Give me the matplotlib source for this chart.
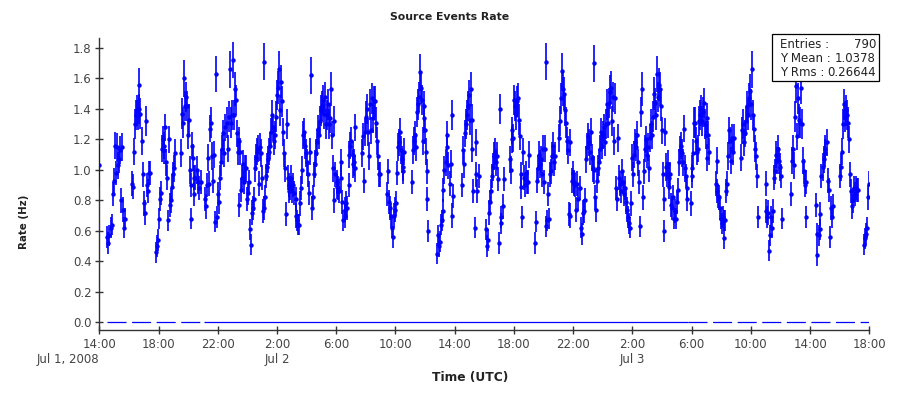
import matplotlib
matplotlib.use("Agg")
import matplotlib.pyplot as plt
from matplotlib.patches import Rectangle
from matplotlib.transforms import blended_transform_factory
import numpy as np

plt.rcParams['font.family'] = ['DejaVu Sans']
plt.rcParams['lines.scale_dashes'] = False

# ---------------- data (hours since 2008-07-01 14:00 UTC) ----------------
hours_a = [0.0,0.54,0.61,0.68,0.77,0.88,0.93,0.99,1.06,1.13,
           1.2,1.24,1.33,1.4,1.47,1.53,1.6,1.65,1.71,2.23,
           2.3,2.35,2.41,2.48,2.55,2.62,2.66,2.71,2.77,2.86,
           2.93,3.0,3.07,3.13,3.2,3.27,3.34,3.4,3.83,3.9,
           3.97,4.01,4.08,4.15,4.21,4.28,4.35,4.39,4.44,4.51,
           4.57,4.64,4.71,4.78,4.84,4.91,4.98,5.05,5.11,5.52,
           5.57,5.63,5.7,5.77,5.84,5.93,5.99,6.06,6.13,6.2,
           6.26,6.33,6.22,6.4]
rate_a = [1.03,0.56,0.52,0.57,0.62,0.64,0.84,0.93,1.16,0.98,
          1.15,1.03,1.07,1.13,0.80,1.15,0.74,0.62,0.68,0.91,
          0.89,1.12,1.30,1.36,1.39,1.36,1.40,1.56,1.37,1.19,
          0.97,0.78,0.72,1.32,0.90,0.86,0.98,0.98,0.46,0.50,
          0.54,0.68,0.81,0.85,1.14,1.20,1.13,1.16,1.28,1.05,
          0.95,0.67,1.20,0.77,0.80,0.89,0.97,1.01,1.11,1.11,
          1.37,1.31,1.60,1.42,1.48,1.42,1.23,1.33,1.00,0.90,
          1.16,1.08,0.68,0.95]
err_a = [.14,.07,.07,.07,.07,.07,.08,.08,.09,.08,
         .09,.09,.09,.09,.08,.09,.08,.07,.07,.08,
         .08,.09,.10,.10,.10,.10,.10,.11,.10,.09,
         .08,.08,.08,.10,.08,.08,.08,.08,.07,.07,
         .07,.07,.08,.08,.09,.09,.09,.09,.09,.09,
         .08,.07,.09,.08,.08,.08,.08,.09,.09,.09,
         .10,.10,.12,.10,.10,.10,.09,.10,.09,.08,
         .09,.09,.07,.08]

hours_b = [6.4,6.49,6.58,6.67,6.76,6.87,7.14,7.21,7.3,7.37,
           7.44,7.48,7.55,7.62,7.7,7.75,7.84,7.91,7.98,8.04,
           8.11,8.18,8.25,8.31,8.38,8.45,8.51,8.6,8.67,8.74,
           8.81,8.88,8.94,9.01,9.08,9.15,9.21,9.28,9.35,9.42,
           9.46,9.51,9.57,9.64,9.71,9.78,9.84,9.91,9.98,10.05,
           10.11,10.18,10.23,10.3,10.36,10.43,10.52,10.59,10.66,10.72,
           10.79,10.86,10.93,11.0,11.06,11.13,11.2,11.26,11.33,11.4,
           11.47,11.53,11.11,11.6,11.67,11.74,11.8,11.87,11.94,12.0,
           12.07,12.14,12.21,12.28,12.34,12.41,12.48,12.55,12.61,12.66,
           12.73,12.79,12.84]
rate_b = [0.84,0.95,1.00,0.92,0.88,0.92,0.81,0.76,0.90,1.08,
          0.91,1.27,1.31,1.09,0.93,1.10,0.66,1.63,0.69,0.84,
          0.79,0.95,1.05,1.14,1.24,1.11,1.28,1.31,1.14,1.35,
          1.66,1.31,1.36,1.72,1.36,1.53,1.46,1.24,1.12,1.19,
          0.77,1.12,0.87,0.95,1.04,0.92,1.01,1.01,0.81,0.85,
          0.92,0.61,0.51,0.72,0.75,0.81,1.01,1.08,1.12,1.14,
          0.91,1.15,1.11,0.95,0.73,0.75,0.82,0.96,1.02,1.07,
          1.12,1.16,1.71,1.25,1.36,1.28,1.19,1.23,1.35,1.49,
          1.54,1.66,1.39,1.58,1.45,1.25,1.11,1.01,0.71,1.30,
          0.95,0.90,0.86]
err_b = [.08,.08,.09,.08,.08,.08,.08,.08,.08,.09,
         .08,.09,.10,.09,.08,.09,.07,.12,.07,.08,
         .08,.08,.09,.09,.09,.09,.09,.10,.09,.10,
         .12,.10,.10,.12,.10,.11,.10,.09,.09,.09,
         .08,.09,.08,.08,.09,.08,.09,.09,.08,.08,
         .08,.07,.07,.08,.08,.08,.09,.09,.09,.09,
         .08,.09,.09,.08,.08,.08,.08,.08,.09,.09,
         .09,.09,.12,.09,.10,.09,.09,.09,.10,.10,
         .11,.12,.10,.11,.10,.09,.09,.09,.08,.10,
         .08,.08,.08]

hours_c = [12.89,12.95,13.04,13.11,13.18,13.25,13.31,13.38,13.45,13.51,
           13.58,13.65,13.72,13.78,13.85,13.92,13.99,14.05,14.12,14.17,
           14.24,14.3,14.35,14.41,14.48,14.55,14.62,14.68,14.75,14.82,
           14.89,14.95,15.02,15.09,15.16,15.23,15.29,15.36,15.43,15.5,
           15.56,15.63,15.7,15.77,15.83,15.88,15.95,16.02,16.08,16.15,
           16.22,16.29,16.35,16.42,16.49,16.56,16.62,16.69,16.76,16.83,
           16.89,16.96,17.03,17.1,17.16,17.23,17.3,17.28,17.77,17.84,
           17.88,17.95,18.02,18.09,18.16,18.22,18.29,18.36,18.43,18.49,
           18.56,18.63,18.7,18.76,18.83,18.9,18.97]
rate_c = [0.88,0.95,0.86,0.90,0.85,0.81,0.70,0.67,0.64,0.64,
          0.78,0.88,1.00,1.23,1.25,1.16,1.11,1.05,0.97,0.85,
          1.12,1.62,0.75,0.82,0.97,1.04,1.11,1.18,1.27,1.23,
          1.32,1.39,1.42,1.46,1.37,1.48,1.30,1.36,1.43,1.30,
          1.34,1.53,1.23,1.01,0.80,1.32,0.97,0.92,0.89,0.88,
          0.86,0.95,1.05,0.79,0.67,0.70,0.74,0.78,0.75,0.90,
          1.10,1.16,1.19,1.10,1.04,1.05,1.28,1.01,1.11,1.22,
          0.93,1.25,1.35,1.40,1.25,1.09,1.43,1.26,1.47,1.34,
          1.45,1.45,1.31,1.19,1.09,0.97,0.97]
err_c = [.08,.08,.08,.08,.08,.08,.08,.07,.07,.07,
         .08,.08,.09,.09,.09,.09,.09,.09,.08,.08,
         .09,.12,.08,.08,.08,.09,.09,.09,.09,.09,
         .10,.10,.10,.10,.10,.10,.10,.10,.10,.10,
         .10,.11,.09,.09,.08,.10,.08,.08,.08,.08,
         .08,.08,.09,.08,.07,.08,.08,.08,.08,.08,
         .09,.09,.09,.09,.09,.09,.09,.09,.09,.09,
         .08,.09,.10,.10,.09,.09,.10,.09,.10,.10,
         .10,.10,.10,.09,.09,.08,.08]

hours_d = [19.46,19.5,19.58,19.64,19.71,19.78,19.82,19.89,19.96,20.02,
           20.09,20.16,20.23,20.3,20.36,20.43,20.5,20.54,20.59,21.13,
           21.2,21.26,21.33,21.4,21.47,21.53,21.6,21.67,21.74,21.8,
           21.87,21.92,21.96,22.01,22.05,22.1,22.16,22.21,22.8,22.86,
           22.93,23.0,23.06,23.13,23.2,23.24,23.31,23.38,23.45,23.51,
           23.58,23.65,23.72,23.79,23.83,23.88,24.48,24.55,24.62,24.69,
           24.75,24.82,24.89,24.96,25.02,25.09,25.16,25.2,25.27,25.34,
           25.41,25.47,25.54,25.61]
rate_d = [0.84,0.99,0.79,0.75,0.70,0.62,0.56,0.70,0.74,0.78,
          0.98,1.15,1.18,1.25,1.13,1.07,1.02,0.99,1.12,0.92,
          1.13,1.19,1.23,1.15,1.38,1.43,1.48,1.64,1.54,1.46,
          1.19,1.42,1.34,1.26,1.12,0.99,0.81,0.60,0.45,0.57,
          0.50,0.53,0.64,0.67,0.73,0.87,1.00,1.05,1.15,1.23,
          1.03,0.91,1.04,0.70,1.36,0.83,0.90,1.13,1.04,1.24,
          1.30,1.36,1.42,1.49,1.33,1.53,1.33,1.14,0.86,0.62,
          0.97,1.18,0.86,0.96]
err_d = [.08,.08,.08,.08,.08,.07,.07,.08,.08,.08,
         .08,.09,.09,.09,.09,.09,.09,.08,.09,.08,
         .09,.09,.09,.09,.10,.10,.10,.12,.11,.10,
         .09,.10,.10,.09,.09,.08,.08,.07,.07,.07,
         .07,.07,.07,.07,.08,.08,.09,.09,.09,.09,
         .09,.08,.09,.08,.10,.08,.08,.09,.09,.09,
         .10,.10,.10,.10,.10,.11,.10,.09,.08,.07,
         .08,.09,.08,.08]

hours_e = [26.13,26.2,26.26,26.33,26.4,26.47,26.53,26.6,26.67,26.74,
           26.8,26.87,26.94,26.98,27.03,27.1,27.16,27.23,27.3,27.75,
           27.79,27.84,27.88,27.95,28.02,28.09,28.15,28.22,28.29,28.33,
           28.38,28.45,28.51,28.56,28.63,28.69,28.76,28.83,28.9,28.96,
           29.01,29.42,29.48,29.55,29.62,29.69,29.75,29.82,29.89,29.96,
           30.02,30.09,30.16,30.23,30.3,30.36,30.43,30.49,30.56,30.63,
           30.7,30.77,30.19,31.06,31.13,31.19,31.26,31.33,31.4,31.47,
           31.53,31.6,31.67,31.71,31.78,31.82,31.89,31.96,32.03]
rate_e = [0.61,0.50,0.54,0.72,0.79,0.86,0.96,1.02,1.09,1.12,
          1.05,1.09,0.94,0.52,1.40,0.69,0.65,0.76,0.94,1.07,
          1.00,1.26,1.20,1.21,1.46,1.42,1.36,1.45,1.47,1.33,
          1.22,0.97,0.89,0.69,1.12,0.95,0.90,0.98,0.92,0.92,
          1.10,0.52,0.66,0.93,1.01,1.10,1.04,1.07,0.97,1.14,
          0.92,1.14,0.63,0.67,0.84,0.68,0.97,0.99,1.09,1.16,
          1.05,1.09,1.71,1.21,1.32,1.47,1.65,1.53,1.50,1.39,
          1.31,1.19,1.13,0.71,0.70,1.18,0.93,0.98,0.91]
err_e = [.07,.07,.07,.08,.08,.08,.08,.09,.09,.09,
         .09,.09,.08,.07,.10,.07,.07,.08,.08,.09,
         .09,.09,.09,.09,.10,.10,.10,.10,.10,.10,
         .09,.08,.08,.07,.09,.08,.08,.08,.08,.08,
         .09,.07,.07,.08,.09,.09,.09,.09,.08,.09,
         .08,.09,.07,.07,.08,.07,.08,.08,.09,.09,
         .09,.09,.12,.09,.10,.10,.12,.11,.11,.10,
         .10,.09,.09,.08,.08,.09,.08,.08,.08]

hours_f = [32.07,32.14,32.21,32.28,32.34,32.43,32.5,32.57,32.64,32.7,
           32.77,32.84,32.91,32.97,33.04,33.11,33.18,33.24,33.31,33.38,
           33.42,33.49,33.56,33.63,33.7,33.76,33.83,33.9,33.97,34.03,
           34.1,34.17,34.24,34.31,34.37,34.44,34.51,34.57,34.64,34.71,
           34.78,34.82,34.89,34.96,35.03,35.09,35.16,35.23,35.29,35.36,
           35.43,35.5,35.56,35.63,35.7,35.77,35.84,35.9,35.97,36.04,
           36.11,36.17,36.24,36.31,36.38,36.44,36.51,36.58,36.62,36.69,
           36.76,36.83,36.89,36.96,37.03,37.1,37.16,37.23,37.3,37.37,
           37.43,37.5,37.57,37.64,37.7,37.77,37.84,37.91,37.98,38.04,
           38.11,38.16,38.2,38.27,38.34,38.4,38.47]
rate_f = [0.92,0.90,0.74,0.91,0.81,0.88,0.62,0.58,0.72,0.73,
          0.80,1.07,1.15,1.22,1.18,1.12,1.25,1.08,1.01,1.00,
          1.70,0.82,0.74,0.93,1.01,1.05,1.14,1.25,1.16,1.23,
          1.28,1.18,1.30,1.43,1.31,1.44,1.51,1.54,1.32,1.48,
          1.19,1.47,0.88,0.81,1.21,0.95,0.91,0.86,0.99,0.92,
          0.84,0.88,0.79,0.74,0.69,0.65,0.62,0.78,1.08,0.97,
          1.10,1.18,1.15,1.23,1.05,0.92,0.63,1.38,1.53,0.82,
          0.99,1.14,1.20,1.10,1.15,1.01,1.21,1.30,1.23,1.35,
          1.50,1.44,1.36,1.63,1.48,1.56,1.53,1.42,1.26,0.97,
          0.81,0.60,1.25,1.02,0.97,1.04,0.89]
err_f = [.08,.08,.08,.08,.08,.08,.07,.07,.08,.08,
         .08,.09,.09,.09,.09,.09,.09,.09,.09,.09,
         .12,.08,.08,.08,.09,.09,.09,.09,.09,.09,
         .09,.09,.10,.10,.10,.10,.11,.11,.10,.10,
         .09,.10,.08,.08,.09,.08,.08,.08,.08,.08,
         .08,.08,.08,.08,.07,.07,.07,.08,.09,.08,
         .09,.09,.09,.09,.09,.08,.07,.10,.11,.08,
         .08,.09,.09,.09,.09,.09,.09,.10,.09,.10,
         .11,.10,.10,.12,.10,.11,.11,.10,.09,.08,
         .08,.07,.09,.09,.08,.09,.08]

hours_g = [38.49,38.56,38.63,38.7,38.76,38.83,38.9,38.97,39.04,39.1,
           39.17,39.24,39.31,39.37,39.44,39.51,39.58,39.64,39.71,39.67,
           39.96,40.0,40.05,40.11,40.18,40.25,40.32,40.39,40.45,40.52,
           40.59,40.65,40.72,40.79,40.86,40.92,40.99,41.06,41.13,41.04,
           41.17,41.71,41.65,41.74,41.78,41.85,41.92,41.99,42.05,42.12,
           42.19,42.21,42.28,42.35,42.41,42.46,42.53,42.59,42.66,42.73,
           42.8,42.86,43.36,43.43,43.5,43.56,43.63,43.7,43.77,43.83,
           43.9,43.97,44.03,44.1,44.17,44.24,44.31,44.37,44.44,44.46]
rate_g = [0.95,0.97,0.77,0.75,0.82,0.68,0.73,0.68,0.79,0.87,
          1.05,1.13,1.16,1.11,1.05,1.27,1.01,0.96,0.88,0.81,
          0.78,1.01,0.96,1.11,1.31,1.31,1.19,1.12,1.14,1.32,
          1.36,1.39,1.32,1.38,1.44,1.30,1.23,1.34,1.23,1.08,
          1.12,1.06,0.91,0.86,0.83,0.82,0.75,0.68,0.65,0.69,
          0.67,0.55,0.67,0.86,0.91,1.09,1.26,1.19,1.06,1.21,
          1.12,1.21,1.08,1.26,1.30,1.18,1.24,1.32,1.42,1.36,
          1.47,1.52,1.43,1.66,1.36,1.27,1.14,1.09,0.96,0.69]
err_g = [.08,.08,.08,.08,.08,.07,.08,.07,.08,.08,
         .09,.09,.09,.09,.09,.09,.09,.08,.08,.08,
         .08,.09,.08,.09,.10,.10,.09,.09,.09,.10,
         .10,.10,.10,.10,.10,.10,.09,.10,.09,.09,
         .09,.09,.08,.08,.08,.08,.08,.07,.07,.07,
         .07,.07,.07,.08,.08,.09,.09,.09,.09,.09,
         .09,.09,.09,.09,.10,.09,.09,.10,.10,.10,
         .10,.11,.10,.12,.10,.09,.09,.09,.08,.07]

hours_h = [45.0,45.05,45.09,45.16,45.23,45.3,45.36,45.43,45.5,45.57,
           45.63,45.7,45.77,45.84,45.9,45.97,46.04,46.11,46.71,46.78,
           46.85,46.92,46.98,47.05,47.12,47.19,47.25,47.32,47.39,47.46,
           47.52,47.59,47.66,47.73,47.7,48.37,48.44,48.5,48.57,48.64,
           48.7,48.77,48.84,48.91,48.98,49.04,49.11,49.18,49.25,49.32,
           49.38,49.45,49.52,50.02,50.08,50.15,50.22,50.28,50.35,50.42,
           50.49,50.55,50.62,50.69,50.76,50.82,50.89,50.96,51.03,51.09,
           51.16,51.23,51.63,51.7,51.77,51.84,51.91,51.95]
rate_h = [0.73,0.91,0.69,0.72,0.47,0.57,0.69,0.62,0.73,0.95,
          0.99,1.10,1.06,1.14,1.06,1.02,0.96,0.68,0.84,1.06,
          1.14,1.03,1.35,1.55,1.22,1.47,1.33,1.31,1.54,1.30,
          1.06,0.99,0.90,0.92,0.69,0.77,0.58,0.44,0.57,0.61,
          0.71,0.96,1.02,1.07,1.11,1.14,1.18,0.93,0.87,0.56,
          0.75,0.69,0.76,0.96,1.02,1.12,1.30,1.43,1.35,1.39,
          1.36,1.31,1.20,0.97,0.86,0.76,0.80,0.88,0.84,0.88,
          0.87,0.87,0.51,0.55,0.58,0.62,0.82,0.91]
err_h = [.08,.08,.07,.08,.07,.07,.07,.07,.08,.08,
         .08,.09,.09,.09,.09,.09,.08,.07,.08,.09,
         .09,.09,.10,.11,.09,.10,.10,.10,.11,.10,
         .09,.08,.08,.08,.07,.08,.07,.07,.07,.07,
         .08,.08,.09,.09,.09,.09,.09,.08,.08,.07,
         .08,.07,.08,.08,.09,.09,.10,.10,.10,.10,
         .10,.10,.09,.08,.08,.08,.08,.08,.08,.08,
         .08,.08,.07,.07,.07,.07,.08,.08]

# zero-rate baseline pieces (start hour, end hour, dashed?)
zero_pieces = [(0.5, 7.07, True), (7.07, 39.77, False), (39.77, 52.0, True)]

tick_hours = [0, 4, 8, 12, 16, 20, 24, 28, 32, 36, 40, 44, 48, 52]
tick_labels = ["14:00", "18:00", "22:00", "2:00", "6:00", "10:00", "14:00",
               "18:00", "22:00", "2:00", "6:00", "10:00", "14:00", "18:00"]
date_hours = [0, 12, 36]
date_labels = ["Jul 1, 2008", "Jul 2", "Jul 3"]

stats_names = ["Entries :", "Y Mean :", "Y Rms :"]
stats_values = ["790", "1.0378", "0.26644"]

# ---------------- assemble ----------------
hours = np.array(hours_a + hours_b + hours_c + hours_d + hours_e + hours_f + hours_g + hours_h)
rate = np.array(rate_a + rate_b + rate_c + rate_d + rate_e + rate_f + rate_g + rate_h)
err = np.array(err_a + err_b + err_c + err_d + err_e + err_f + err_g + err_h)
assert len(hours) == len(rate) == len(err), (len(hours), len(rate), len(err))

BLUE = "#0000ff"
AXC = "#333333"
TXT = "#444444"

fig = plt.figure(figsize=(9, 4), dpi=100)
fig.patch.set_facecolor("white")
W, H = 900.0, 400.0
ax = fig.add_axes([99.3 / W, 70 / H, 770 / W, 292 / H])

ax.errorbar(hours, rate, yerr=err, fmt='o', color=BLUE, ecolor=BLUE,
            elinewidth=1.2, ms=3.2, mew=0, capsize=0, zorder=3)

for h0, h1, dashed in zero_pieces:
    if dashed:
        ax.plot([h0, h1], [0, 0], color=BLUE, lw=0.9, dashes=(13.7, 4.0), zorder=2,
                solid_capstyle='butt', dash_capstyle='butt')
    else:
        ax.plot([h0, h1], [0, 0], color=BLUE, lw=0.9, zorder=2, solid_capstyle='butt')

ax.set_xlim(0, 52)
ax.set_ylim(-0.0505, 1.8655)
ax.set_xticks(tick_hours)
ax.set_xticklabels(tick_labels)
ax.set_yticks(np.round(np.arange(0, 1.81, 0.2), 1))
ax.yaxis.set_major_formatter(matplotlib.ticker.FormatStrFormatter('%.1f'))

for s in ['top', 'right']:
    ax.spines[s].set_visible(False)
for s in ['left', 'bottom']:
    ax.spines[s].set_color(AXC)
    ax.spines[s].set_linewidth(1.0)
ax.tick_params(axis='both', direction='inout', length=6, width=1.0, color=AXC,
               labelcolor=TXT, labelsize=8.5)
ax.tick_params(axis='x', pad=2.5)
ax.tick_params(axis='y', pad=2.5)

trans = blended_transform_factory(ax.transData, ax.transAxes)
for dh, dl in zip(date_hours, date_labels):
    ha = 'right' if dh == 0 else 'center'
    ax.annotate(dl, xy=(dh, 0), xycoords=trans, xytext=(0, -21.6),
                textcoords='offset points', ha=ha, va='center',
                fontsize=8.5, color=TXT, annotation_clip=False)

fig.text(450 / W, 1 - 17 / H, "Source Events Rate", ha='center', va='center',
         fontsize=7.8, fontweight='bold', color='#222222')
fig.text(470 / W, 1 - 378 / H, "Time (UTC)", ha='center', va='center',
         fontsize=8.8, fontweight='bold', color='#222222')
fig.text(24 / W, 1 - 222 / H, "Rate (Hz)", ha='center', va='center', rotation=90,
         fontsize=7.4, fontweight='bold', color='#222222')

# statistics box
bx0, by0, bx1, by1 = 772, 34, 879, 81
fig.add_artist(Rectangle((bx0 / W, 1 - by1 / H), (bx1 - bx0) / W, (by1 - by0) / H,
                         transform=fig.transFigure, facecolor='white',
                         edgecolor='black', lw=0.9, zorder=5))
for i, (nm, vl) in enumerate(zip(stats_names, stats_values)):
    yy = 1 - (44 + 14.5 * i) / H
    fig.text(780 / W, yy, nm, ha='left', va='center', fontsize=8.5, color='#222222', zorder=6)
    fig.text(876 / W, yy, vl, ha='right', va='center', fontsize=8.5, color='#222222', zorder=6)

fig.savefig("out.png", dpi=100)
